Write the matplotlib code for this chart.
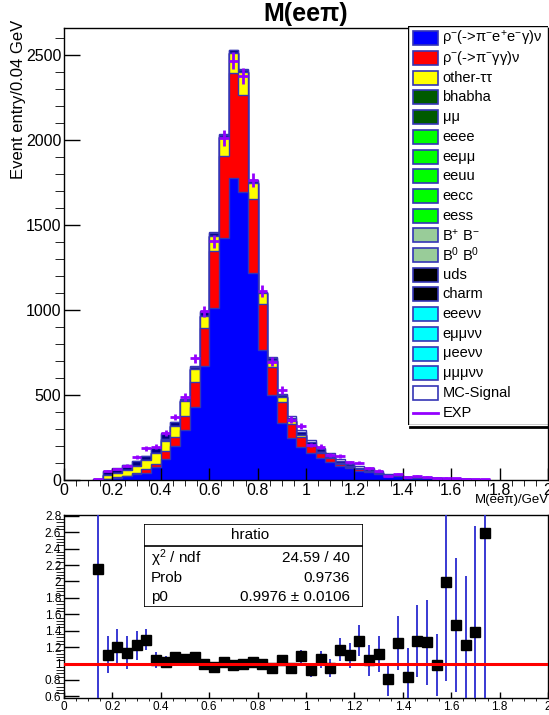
import numpy as np
import matplotlib
matplotlib.use("Agg")
import matplotlib.pyplot as plt
from matplotlib.patches import Rectangle
from matplotlib.ticker import MultipleLocator, FuncFormatter

plt.rcParams['font.family'] = ['Liberation Sans', 'DejaVu Sans']
plt.rcParams['mathtext.fontset'] = 'custom'
plt.rcParams['mathtext.rm'] = 'Liberation Sans'
plt.rcParams['mathtext.it'] = 'Liberation Sans:italic'
plt.rcParams['mathtext.bf'] = 'Liberation Sans:bold'

W, H = 549, 715

# 0.04 GeV bins, 0.12 -> 1.76 GeV (outside this range everything is empty)
edges = np.linspace(0.12, 1.76, 42)
centers = edges[:-1] + 0.02

# MC stack components (events / bin)
rho_ee = [1, 5, 14, 22, 38, 43, 75, 123, 198, 294, 431, 670, 1014, 1422, 1775, 1696, 1221, 765, 500, 337,
          245, 192, 157, 128, 105, 82, 68, 54, 47, 36, 24, 21, 14, 13, 11, 8, 5, 4, 3, 2, 1]
rho_gg = [0, 1, 2, 3, 6, 20, 20, 45, 55, 84, 144, 226, 333, 484, 618, 571, 430, 270, 163, 120,
          84, 59, 45, 32, 25, 15, 10, 8, 6, 4, 2, 2, 1, 1, 1, 1, 0, 0, 0, 0, 0]
other_tt = [1, 25, 26, 35, 36, 52, 62, 63, 67, 87, 76, 70, 88, 114, 121, 137, 98, 63, 35, 30,
            16, 12, 6, 5, 5, 5, 3, 2, 1, 1, 1, 0, 0, 0, 0, 0, 0, 0, 0, 0, 0]
bhabha = [0, 0, 0, 0, 0, 0, 0, 5, 0, 0, 0, 0, 0, 0, 0, 0, 0, 0, 0, 0,
          0, 0, 0, 0, 0, 0, 0, 0, 0, 0, 0, 0, 0, 0, 0, 0, 0, 0, 0, 0, 0]
eeee = [0, 0, 0, 0, 0, 0, 0, 3, 0, 0, 0, 0, 0, 0, 0, 0, 0, 0, 0, 0,
        0, 0, 0, 0, 0, 0, 0, 0, 0, 0, 0, 0, 0, 0, 0, 0, 0, 0, 0, 0, 0]
b_charged = [0, 0, 0, 0, 0, 0, 0, 0, 0, 0, 5, 0, 0, 0, 0, 0, 0, 0, 8, 0,
             0, 0, 0, 0, 0, 0, 0, 0, 0, 0, 0, 0, 0, 0, 0, 0, 0, 0, 0, 0, 0]
uds = [2, 22, 25, 27, 30, 26, 30, 30, 20, 6, 9, 25, 17, 10, 14, 8, 12, 6, 12, 15,
       20, 20, 18, 17, 14, 12, 11, 9, 8, 6, 4, 4, 3, 2, 2, 2, 1, 1, 1, 1, 0]
mc_signal = [0, 2, 2, 2, 3, 3, 3, 5, 4, 3, 5, 5, 5, 5, 5, 4, 4, 4, 7, 6,
             10, 13, 9, 8, 8, 8, 8, 7, 6, 5, 3, 3, 2, 2, 2, 1, 1, 1, 0, 0, 0]

# data
exp_counts = [5, 52, 64, 84, 133, 187, 196, 276, 370, 487, 716, 992, 1405, 2012, 2468, 2378, 1765, 1113, 696, 530,
              355, 316, 206, 196, 147, 141, 104, 102, 69, 55, 25, 35, 16, 24, 20, 12, 12, 9, 5, 4, 3]
exp_err = [2.2, 7.2, 8.0, 9.2, 11.5, 13.7, 14.0, 16.6, 19.2, 22.1, 26.8, 31.5, 37.5, 44.9, 49.7, 48.8, 42.0, 33.4, 26.4, 23.0,
           18.8, 17.8, 14.4, 14.0, 12.1, 11.9, 10.2, 10.1, 8.3, 7.4, 5.0, 5.9, 4.0, 4.9, 4.5, 3.5, 3.5, 3.0, 2.2, 2.0, 1.7]

# ratio panel
ratio = [2.15, 1.11, 1.20, 1.13, 1.22, 1.29, 1.04, 1.02, 1.08, 1.05, 1.08, 1.00, 0.96, 1.02, 0.98, 0.99, 1.02, 1.00,
         0.94, 1.04, 0.94, 1.09, 0.92, 1.05, 0.94, 1.17, 1.10, 1.28, 1.04, 1.12, 0.81, 1.25, 0.84, 1.27, 1.26,
         0.98, 1.99, 1.47, 1.22, 1.38, 2.59]
ratio_err = [3.0, 0.23, 0.22, 0.20, 0.18, 0.13, 0.10, 0.07, 0.06, 0.05, 0.04, 0.04, 0.03, 0.03, 0.03, 0.03, 0.03, 0.03,
             0.04, 0.06, 0.06, 0.08, 0.08, 0.10, 0.11, 0.14, 0.15, 0.19, 0.19, 0.22, 0.20, 0.33, 0.35, 0.44, 0.52,
             0.38, 1.2, 0.82, 0.85, 1.3, 2.5]
fit_p0 = 0.9976

zeros = [0] * len(rho_ee)
# (legend label, values, legend colour, stack colour)
components = [
    ('ρ$^{-}$(->π$^{-}$e$^{+}$e$^{-}$γ)ν', rho_ee, '#0000ff', '#0000ff'),
    ('ρ$^{-}$(->π$^{-}$γγ)ν', rho_gg, '#ff0000', '#ff0000'),
    ('other-ττ', other_tt, '#ffff00', '#ffff00'),
    ('bhabha', bhabha, '#005a00', '#005a00'),
    ('μμ', zeros, '#005a00', '#005a00'),
    ('eeee', eeee, '#00ff00', '#00ff00'),
    ('eeμμ', zeros, '#00ff00', '#00ff00'),
    ('eeuu', zeros, '#00ff00', '#00ff00'),
    ('eecc', zeros, '#00ff00', '#00ff00'),
    ('eess', zeros, '#00ff00', '#00ff00'),
    ('B$^{+}$ B$^{-}$', b_charged, '#99cc99', '#b8b8d8'),
    ('B$^{0}$ B$^{0}$', zeros, '#99cc99', '#99cc99'),
    ('uds', uds, '#000000', '#000080'),
    ('charm', zeros, '#000000', '#000080'),
    ('eeeνν', zeros, '#00ffff', '#00ffff'),
    ('eμμνν', zeros, '#00ffff', '#00ffff'),
    ('μeeνν', zeros, '#00ffff', '#00ffff'),
    ('μμμνν', zeros, '#00ffff', '#00ffff'),
    ('MC-Signal', mc_signal, '#ffffff', '#ffffff'),
]
edge_col = '#3535b5'
exp_col = '#9400ff'

fig = plt.figure(figsize=(W / 100, H / 100), dpi=100)


def fx(x):
    return x / W


def fy(y):
    return 1 - y / H


fmt = FuncFormatter(lambda v, p: f'{v:g}')

# ---------------- top panel ----------------
ax = fig.add_axes([fx(64), fy(480), fx(548) - fx(64), fy(28) - fy(480)])
cum = np.cumsum(np.array([c[1] for c in components], dtype=float), axis=0)
for k in reversed(range(len(components))):
    if not np.any(components[k][1]):
        continue
    ax.stairs(cum[k], edges, baseline=0, fill=True, facecolor=components[k][3],
              edgecolor=edge_col, linewidth=1.0)
ax.errorbar(centers, exp_counts, yerr=exp_err, xerr=0.02, fmt='none', ecolor=exp_col,
            elinewidth=2, capsize=0, zorder=5)

ax.set_xlim(0, 2)
ax.set_ylim(0, 2660)
ax.xaxis.set_major_locator(MultipleLocator(0.2))
ax.xaxis.set_minor_locator(MultipleLocator(0.05))
ax.yaxis.set_major_locator(MultipleLocator(500))
ax.yaxis.set_minor_locator(MultipleLocator(100))
ax.xaxis.set_major_formatter(fmt)
ax.tick_params(direction='in', top=False, right=False, labelsize=11.5, width=1)
ax.tick_params(axis='y', which='major', length=11.5, pad=2)
ax.tick_params(axis='y', which='minor', length=6.5)
ax.tick_params(axis='x', which='major', length=8.5, pad=2)
ax.tick_params(axis='x', which='minor', length=4.3)
for s in ax.spines.values():
    s.set_linewidth(1)

fig.text(fx(306), fy(14), 'M(eeπ)', ha='center', va='center', fontsize=18, fontweight='bold')
fig.text(fx(19), fy(20), 'Event entry/0.04 GeV', rotation=90, ha='center', va='top', fontsize=12)
fig.text(fx(549), fy(500), 'M(eeπ)/GeV', ha='right', va='center', fontsize=9.5)

# legend box
lg = fig.add_axes([fx(408), fy(425), fx(548) - fx(408), fy(26) - fy(425)])
lg.set_xlim(0, 140)
lg.set_ylim(399, 0)
lg.axis('off')
lg.add_patch(Rectangle((0, 0), 140, 399, facecolor='white', edgecolor='black', linewidth=1))
lg.plot([2, 140], [400.5, 400.5], color='black', lw=2, clip_on=False)
for i, (label, _, lcol, _) in enumerate(components):
    yc = 12.3 + 19.7 * i
    lg.add_patch(Rectangle((5.3, yc - 7), 25, 14, facecolor=lcol, edgecolor=edge_col, linewidth=1.2))
    lg.text(34.5, yc, label, va='center', ha='left', fontsize=10.5)
yc = 12.3 + 19.7 * len(components)
lg.plot([5.3, 30.3], [yc, yc], color=exp_col, lw=2)
lg.text(34.5, yc, 'EXP', va='center', ha='left', fontsize=10.5)

# ---------------- ratio panel ----------------
ax2 = fig.add_axes([fx(64), fy(698), fx(548) - fx(64), fy(515) - fy(698)])
ax2.errorbar(centers, ratio, yerr=ratio_err, fmt='s', color='black', ms=6.5,
             ecolor='#2a2ad0', elinewidth=1.3, capsize=0, zorder=3)
ax2.axhline(fit_p0, color='red', lw=2.2, zorder=4)
ax2.set_xlim(0, 2)
ax2.set_ylim(0.58, 2.81)
ax2.xaxis.set_major_locator(MultipleLocator(0.2))
ax2.xaxis.set_minor_locator(MultipleLocator(0.05))
ax2.yaxis.set_major_locator(MultipleLocator(0.2))
ax2.yaxis.set_minor_locator(MultipleLocator(0.04))
ax2.xaxis.set_major_formatter(fmt)
ax2.yaxis.set_major_formatter(fmt)
ax2.tick_params(direction='in', top=False, right=False, labelsize=8.5, width=1)
ax2.tick_params(axis='y', which='major', length=11, pad=2)
ax2.tick_params(axis='y', which='minor', length=5.5)
ax2.tick_params(axis='x', which='major', length=4.2, pad=2)
ax2.tick_params(axis='x', which='minor', length=2.2)
for s in ax2.spines.values():
    s.set_linewidth(1)

# fit statistics box
sb = fig.add_axes([fx(144), fy(607), fx(363) - fx(144), fy(524) - fy(607)])
sb.set_xlim(144, 363)
sb.set_ylim(607, 524)
sb.axis('off')
sb.add_patch(Rectangle((144, 524), 219, 83, facecolor='white', edgecolor='black', linewidth=1.2))
sb.plot([144, 363], [545.7, 545.7], color='black', lw=1.2)
sb.text(250, 535, 'hratio', ha='center', va='center', fontsize=11)
rows = [('χ$^{2}$ / ndf', '24.59 / 40', 558), ('Prob', '0.9736', 577.5), ('p0', '0.9976 ± 0.0106', 597)]
for name, val, yy in rows:
    sb.text(151, yy, name, ha='left', va='center', fontsize=11)
    sb.text(350, yy, val, ha='right', va='center', fontsize=11)

fig.savefig('out.png', dpi=100)
